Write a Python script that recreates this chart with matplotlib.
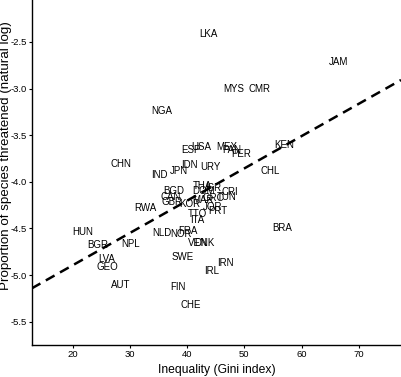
import matplotlib.pyplot as plt
import numpy as np

plt.rcParams['font.family'] = ['Liberation Sans', 'DejaVu Sans']

# country codes, Gini index, log proportion of species threatened
codes = ['LKA', 'JAM', 'MYS', 'CMR', 'NGA', 'ESP', 'USA', 'MEX', 'PAN', 'PER',
         'KEN', 'CHN', 'IDN', 'URY', 'JPN', 'IND', 'CHL', 'THA', 'ISR', 'DOM',
         'CRI', 'TUN', 'GRC', 'MAR', 'BGD', 'CAN', 'GBR', 'KOR', 'RWA', 'JOR',
         'PRT', 'TTO', 'ITA', 'HUN', 'NLD', 'NOR', 'FRA', 'BRA', 'VEN', 'DNK',
         'BGR', 'NPL', 'SWE', 'LVA', 'GEO', 'IRN', 'IRL', 'AUT', 'FIN', 'CHE']
gini = [43.7, 66.5, 48.1, 52.6, 35.5, 40.6, 42.4, 47.0, 47.8, 49.4,
        57.0, 28.5, 40.3, 44.0, 38.6, 35.2, 54.6, 42.7, 44.6, 42.8,
        47.4, 46.9, 44.6, 42.8, 37.6, 37.1, 37.4, 40.4, 32.7, 44.5,
        45.3, 41.8, 41.7, 21.8, 35.5, 39.0, 40.2, 56.7, 41.9, 43.1,
        24.4, 30.1, 39.2, 26.0, 26.0, 46.6, 44.3, 28.4, 38.3, 40.6]
threat = [-2.41, -2.71, -3.00, -3.00, -3.24, -3.66, -3.63, -3.63, -3.66, -3.70,
          -3.60, -3.81, -3.82, -3.84, -3.88, -3.93, -3.88, -4.05, -4.07, -4.10,
          -4.11, -4.16, -4.17, -4.20, -4.10, -4.16, -4.22, -4.24, -4.28, -4.27,
          -4.31, -4.35, -4.41, -4.54, -4.55, -4.56, -4.53, -4.50, -4.66, -4.66,
          -4.68, -4.67, -4.81, -4.83, -4.91, -4.87, -4.96, -5.11, -5.13, -5.32]

fig = plt.figure(figsize=(4.01, 3.77), dpi=100)
ax = fig.add_axes([0.079, 0.085, 0.921, 0.915])

for c, x, y in zip(codes, gini, threat):
    ax.text(x, y, c, ha='center', va='center', fontsize=7)

# linear fit line
slope, icpt = np.polyfit(gini, threat, 1)
xs = np.array([12.8, 77.4])
ax.plot(xs, icpt + slope * xs, color='black', linestyle=(0, (4, 2.5)), linewidth=1.8)

ax.set_xlim(12.8, 77.4)
ax.set_ylim(-5.75, -2.05)
ax.set_xticks([20, 30, 40, 50, 60, 70])
ax.set_yticks([-2.5, -3.0, -3.5, -4.0, -4.5, -5.0, -5.5])
ax.set_yticklabels(['-2.5', '-3.0', '-3.5', '-4.0', '-4.5', '-5.0', '-5.5'])
ax.tick_params(labelsize=6.8, length=2, pad=1.5, width=0.8)
for s in ['left', 'bottom']:
    ax.spines[s].set_linewidth(1.0)
ax.spines['top'].set_visible(False)
ax.spines['right'].set_visible(False)
ax.set_xlabel('Inequality (Gini index)', fontsize=8.7, labelpad=4)
ax.set_ylabel('Proportion of species threatened (natural log)', fontsize=9.6)
ax.yaxis.set_label_coords(-0.054, 0.548)

fig.savefig('out.png', dpi=100)
